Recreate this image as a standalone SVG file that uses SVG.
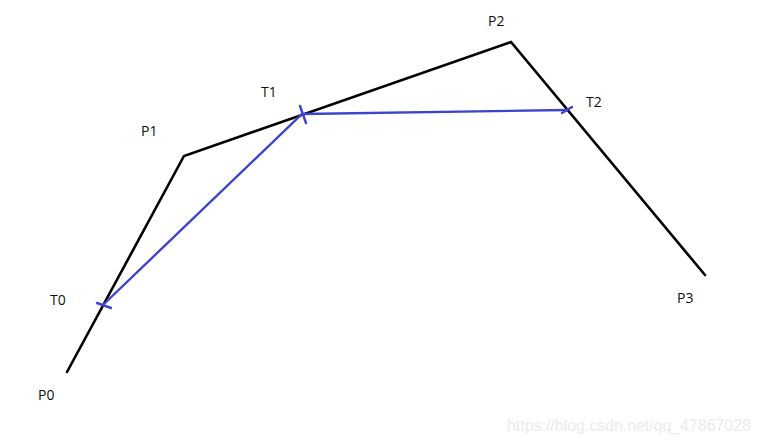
<svg xmlns="http://www.w3.org/2000/svg" width="760" height="444" viewBox="0 0 760 444">
<style>
.lbl{font-family:"Open Sans","Noto Sans",sans-serif;font-size:14px;fill:#111}
.blk{stroke:#000;stroke-width:2.6;fill:none;stroke-linecap:round;stroke-linejoin:miter}
.blu{stroke:#3e44cc;stroke-width:2.4;fill:none;stroke-linecap:round}
.wm{font-family:"Liberation Sans",Arial,sans-serif;font-size:15.9px;fill:#ebebeb}
</style>
<rect width="760" height="444" fill="#fff"/>
<g id="connectors">
<polyline class="blk" points="67,372 184,156 511,42 705,275"/>
<polyline class="blu" points="104,304 302,114 567,110"/>
<line class="blu" x1="97" y1="303" x2="111" y2="308"/>
<line class="blu" x1="300" y1="106" x2="306" y2="123"/>
<line class="blu" x1="562" y1="113" x2="572" y2="107"/>
</g>
<g id="P0"><text class="lbl" x="38" y="400">P0</text></g>
<g id="P1"><text class="lbl" x="141" y="136">P1</text></g>
<g id="P2"><text class="lbl" x="488" y="26">P2</text></g>
<g id="P3"><text class="lbl" x="677" y="303">P3</text></g>
<g id="T0"><text class="lbl" x="50" y="305">T0</text></g>
<g id="T1"><text class="lbl" x="261" y="97">T1</text></g>
<g id="T2"><text class="lbl" x="586" y="107">T2</text></g>
<text class="wm" x="507" y="431">https://blog.csdn.net/qq_47867028</text>
</svg>
